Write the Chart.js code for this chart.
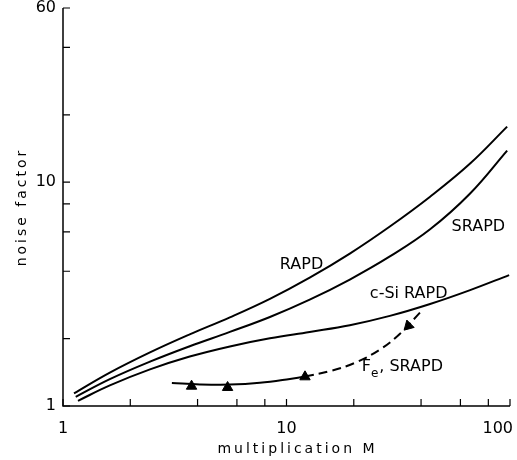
<!DOCTYPE html>
<html>
<head>
<meta charset="utf-8">
<script src="https://cdn.jsdelivr.net/npm/chart.js@4/dist/chart.umd.min.js"></script>
<style>
  html, body { margin: 0; padding: 0; background: #fff; }
</style>
</head>
<body>
<canvas id="noiseChart" width="517" height="460"></canvas>
<script>
// Valores (M = multiplicação, F = fator de ruído)
const rapdM = [1.12, 1.62, 2.45, 3.69, 5.58, 8.43, 12.7, 19.2, 29.0, 43.9, 66.3, 97.1];
const rapdF = [1.138, 1.409, 1.735, 2.089, 2.489, 3.011, 3.745, 4.797, 6.337, 8.61, 12.11, 17.71];

const srapdM = [1.14, 1.62, 2.45, 3.69, 5.58, 8.43, 12.7, 19.2, 29.0, 43.9, 66.3, 97.1];
const srapdF = [1.099, 1.318, 1.578, 1.849, 2.143, 2.499, 2.987, 3.673, 4.657, 6.158, 8.9, 13.84];

const csiM = [1.167, 1.62, 2.45, 3.69, 5.58, 8.43, 12.7, 19.2, 29.0, 43.9, 66.3, 99.1];
const csiF = [1.055, 1.236, 1.457, 1.663, 1.846, 2.007, 2.143, 2.296, 2.527, 2.856, 3.294, 3.846];

const feM = [3.07, 4.10, 5.58, 7.60, 10.36, 12.09, 15.65, 20.25, 26.2, 32.2, 39.6];
const feF = [1.268, 1.249, 1.246, 1.269, 1.321, 1.355, 1.432, 1.559, 1.788, 2.104, 2.619];

// Pontos medidos (triângulos)
const feMarkM = [3.76, 5.45, 12.1, 35.1];
const feMarkF = [1.226, 1.21, 1.35, 2.28];

// Marcas e rótulos dos eixos
const xTicks = [1, 2, 4, 6, 8, 10, 20, 40, 60, 80, 100];
const xLabels = [1, 10, 100];
const yTicks = [1, 2, 4, 6, 8, 10, 20, 40, 60];
const yLabels = [1, 10, 60];

const FONT = '"DejaVu Sans", sans-serif';

function toPoints(xs, ys) {
    return xs.map((x, i) => ({ x: x, y: ys[i] }));
}

// Desenha eixos, marcas internas, rótulos e títulos
const axesPlugin = {
    id: 'axesPlugin',
    afterDraw(chart) {
        const ctx = chart.ctx;
        const xs = chart.scales.x;
        const ys = chart.scales.y;
        const a = chart.chartArea;

        ctx.save();
        ctx.strokeStyle = '#000';
        ctx.lineWidth = 1.5;
        ctx.beginPath();
        ctx.moveTo(a.left, a.top);
        ctx.lineTo(a.left, a.bottom);
        ctx.lineTo(a.right, a.bottom);
        ctx.stroke();

        ctx.lineWidth = 1.2;
        ctx.beginPath();
        xTicks.forEach(v => {
            const px = xs.getPixelForValue(v);
            ctx.moveTo(px, a.bottom);
            ctx.lineTo(px, a.bottom - 7);
        });
        yTicks.forEach(v => {
            const py = ys.getPixelForValue(v);
            ctx.moveTo(a.left, py);
            ctx.lineTo(a.left + 7, py);
        });
        ctx.stroke();

        ctx.fillStyle = '#000';
        ctx.font = '16px ' + FONT;
        ctx.textAlign = 'right';
        ctx.textBaseline = 'middle';
        yLabels.forEach(v => {
            ctx.fillText(String(v), a.left - 7, ys.getPixelForValue(v));
        });

        ctx.textBaseline = 'alphabetic';
        ctx.textAlign = 'center';
        xLabels.forEach(v => {
            const txt = String(v);
            const w = ctx.measureText(txt).width;
            const px = Math.min(xs.getPixelForValue(v), chart.width - w / 2 - 4);
            ctx.fillText(txt, px, a.bottom + 27);
        });

        // títulos dos eixos
        ctx.font = '14px ' + FONT;
        ctx.letterSpacing = '3px';
        ctx.fillText('multiplication M', (a.left + a.right) / 2 + 11, 453);
        ctx.translate(22, (a.top + a.bottom) / 2);
        ctx.rotate(-Math.PI / 2);
        ctx.textBaseline = 'middle';
        ctx.fillText('noise factor', 0, 0);
        ctx.restore();

        // rótulos das curvas
        ctx.save();
        ctx.fillStyle = '#000';
        ctx.font = '16px ' + FONT;
        ctx.textAlign = 'left';
        ctx.textBaseline = 'alphabetic';
        const put = (txt, m, f) => ctx.fillText(txt, xs.getPixelForValue(m), ys.getPixelForValue(f));
        put('RAPD', 9.34, 4.08);
        put('SRAPD', 54.8, 6.04);
        put('c-Si RAPD', 23.6, 3.03);

        // F com índice e
        const fx = xs.getPixelForValue(21.7);
        const fy = ys.getPixelForValue(1.43);
        ctx.fillText('F', fx, fy);
        const wF = ctx.measureText('F').width;
        ctx.font = '12px ' + FONT;
        ctx.fillText('e', fx + wF, fy + 6);
        const wE = ctx.measureText('e').width;
        ctx.font = '16px ' + FONT;
        ctx.fillText(', SRAPD', fx + wF + wE + 1, fy);
        ctx.restore();
    }
};

const lineStyle = {
    borderColor: '#000',
    borderWidth: 2,
    pointRadius: 0,
    fill: false,
    showLine: true,
    tension: 0.4
};

new Chart(document.getElementById('noiseChart'), {
    type: 'scatter',
    data: {
        datasets: [
            Object.assign({ label: 'RAPD', data: toPoints(rapdM, rapdF) }, lineStyle),
            Object.assign({ label: 'SRAPD', data: toPoints(srapdM, srapdF) }, lineStyle),
            Object.assign({ label: 'c-Si RAPD', data: toPoints(csiM, csiF) }, lineStyle),
            Object.assign({
                label: 'Fe, SRAPD',
                data: toPoints(feM, feF),
                segment: {
                    borderDash: c => c.p0.parsed.x >= 12 ? [9, 5] : undefined
                }
            }, lineStyle),
            {
                label: 'medidas',
                data: toPoints(feMarkM, feMarkF),
                showLine: false,
                pointStyle: 'triangle',
                pointRadius: 6,
                pointRotation: [0, 0, 0, 225],
                backgroundColor: '#000',
                borderColor: '#000',
                borderWidth: 1
            }
        ]
    },
    options: {
        responsive: false,
        animation: false,
        layout: {
            padding: { left: 63, right: 7, top: 8, bottom: 54 }
        },
        plugins: {
            legend: { display: false },
            tooltip: { enabled: false }
        },
        scales: {
            x: { type: 'logarithmic', min: 1, max: 100, display: false },
            y: { type: 'logarithmic', min: 1, max: 60, display: false }
        }
    },
    plugins: [axesPlugin]
});
</script>
</body>
</html>
